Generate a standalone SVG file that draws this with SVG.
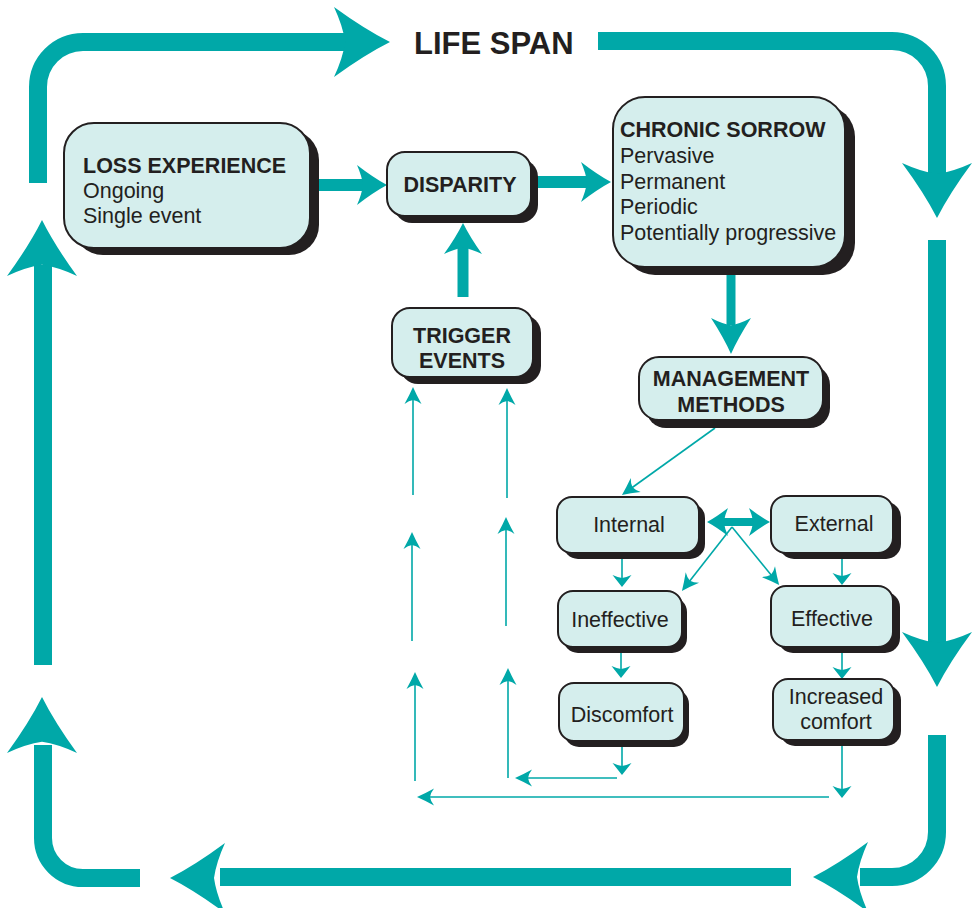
<svg xmlns="http://www.w3.org/2000/svg" xmlns:xlink="http://www.w3.org/1999/xlink" width="977" height="908" viewBox="0 0 977 908">
<style>
.shadow{fill:#231f20}
.box{fill:#d5eeed;stroke:#231f20;stroke-width:2}
.t{font-family:"Liberation Sans",Arial,Helvetica,sans-serif;font-size:21.5px;fill:#231f20}
.b{font-weight:bold}
.c{text-anchor:middle}
.thick{stroke:#00a8a8;fill:none;stroke-linecap:butt}
.thin{stroke:#00a8a8;stroke-width:1.6;fill:none}
.head{fill:#00a8a8}
</style>
<defs>
<path id="ah" d="M0,0 Q-0.45,-0.36 -1,-1 Q-0.84,-0.45 -0.8,0 Q-0.84,0.45 -1,1 Q-0.45,0.36 0,0Z"/>
<marker id="ta" markerUnits="userSpaceOnUse" viewBox="-20 -11 22 22" refX="-5" refY="0" markerWidth="22" markerHeight="22" orient="auto">
<path class="head" d="M0,0 Q-8,-3.5 -17,-8.5 Q-13.5,-4 -13,0 Q-13.5,4 -17,8.5 Q-8,3.5 0,0Z"/>
</marker>
<marker id="tb" markerUnits="userSpaceOnUse" viewBox="-14 -11 16 22" refX="-4" refY="0" markerWidth="16" markerHeight="22" orient="auto">
<path class="head" d="M0,0 Q-5,-4 -12,-9.5 Q-9.5,-4 -9,0 Q-9.5,4 -12,9.5 Q-5,4 0,0Z"/>
</marker>
</defs>
<rect width="977" height="908" fill="#ffffff"/>

<g id="lifespan-loop">
<path class="thick" stroke-width="18" d="M38,183 V87 A45,45 0 0 1 83,42 H350"/>
<use href="#ah" class="head" transform="translate(390,42) scale(56,35)"/>
<path class="thick" stroke-width="18" d="M598,41 H892 A45,45 0 0 1 937,86 V180"/>
<use href="#ah" class="head" transform="translate(937,218) rotate(90) scale(55,35)"/>
<path class="thick" stroke-width="18" d="M937,240 V650"/>
<use href="#ah" class="head" transform="translate(937,687) rotate(90) scale(55,35)"/>
<path class="thick" stroke-width="18" d="M937,735 V832 A45,45 0 0 1 892,877 H860"/>
<use href="#ah" class="head" transform="translate(813,877) rotate(180) scale(55,35)"/>
<path class="thick" stroke-width="18" d="M791,877 H220"/>
<use href="#ah" class="head" transform="translate(170,878) rotate(180) scale(55,35)"/>
<path class="thick" stroke-width="18" d="M140,878 H83 A40,40 0 0 1 43,838 V745"/>
<use href="#ah" class="head" transform="translate(42,697) rotate(-90) scale(56,35)"/>
<path class="thick" stroke-width="18" d="M43,665 V265"/>
<use href="#ah" class="head" transform="translate(42,220) rotate(-90) scale(56,35)"/>
<text class="t b" x="414" y="54" style="font-size:31px">LIFE SPAN</text>
</g>

<g id="connectors">
<path class="thick" stroke-width="12" d="M319,185 H365"/>
<use href="#ah" class="head" transform="translate(387,185) scale(30,20)"/>
<path class="thick" stroke-width="12" d="M537,182 H588"/>
<use href="#ah" class="head" transform="translate(611,182) scale(30,20)"/>
<path class="thick" stroke-width="11" d="M463,297 V245"/>
<use href="#ah" class="head" transform="translate(463,223) rotate(-90) scale(31,19)"/>
<path class="thick" stroke-width="9" d="M731,275 V325"/>
<use href="#ah" class="head" transform="translate(731,354) rotate(90) scale(36,20)"/>
<path class="thick" stroke-width="8" d="M720,522 H757"/>
<use href="#ah" class="head" transform="translate(707,522) rotate(180) scale(21,14)"/>
<use href="#ah" class="head" transform="translate(770,522) scale(21,14)"/>

<path class="thin" marker-end="url(#ta)" d="M715,428 L626,492"/>
<path class="thin" marker-end="url(#ta)" d="M732,527 L685,587"/>
<path class="thin" marker-end="url(#ta)" d="M732,527 L776,581"/>

<path class="thin" marker-end="url(#tb)" d="M622,559 V583"/>
<path class="thin" marker-end="url(#tb)" d="M621,653 V674"/>
<path class="thin" marker-end="url(#tb)" d="M622,747 V771"/>
<path class="thin" marker-end="url(#tb)" d="M842,559 V581"/>
<path class="thin" marker-end="url(#tb)" d="M842,653 V675"/>
<path class="thin" marker-end="url(#tb)" d="M842,746 V794"/>

<path class="thin" marker-end="url(#ta)" d="M617,778 H520"/>
<path class="thin" marker-end="url(#ta)" d="M829,797 H422"/>

<path class="thin" marker-end="url(#ta)" d="M415,781 V677"/>
<path class="thin" marker-end="url(#ta)" d="M412,641 V537"/>
<path class="thin" marker-end="url(#ta)" d="M413,495 V392"/>
<path class="thin" marker-end="url(#ta)" d="M508,778 V673"/>
<path class="thin" marker-end="url(#ta)" d="M506,626 V522"/>
<path class="thin" marker-end="url(#ta)" d="M507,498 V393"/>
</g>

<g id="loss-experience">
<rect class="shadow" x="73" y="130" width="246" height="125" rx="30"/>
<rect class="box" x="64" y="123" width="246" height="125" rx="30"/>
<text class="t b" x="83" y="173">LOSS EXPERIENCE</text>
<text class="t" x="83" y="198">Ongoing</text>
<text class="t" x="83" y="223">Single event</text>
</g>

<g id="disparity">
<rect class="shadow" x="394" y="159" width="144" height="64" rx="18"/>
<rect class="box" x="387" y="152" width="144" height="64" rx="18"/>
<text class="t b c" x="460" y="192">DISPARITY</text>
</g>

<g id="chronic-sorrow">
<rect class="shadow" x="623" y="105" width="232" height="170" rx="32"/>
<rect class="box" x="613" y="97" width="232" height="170" rx="32"/>
<text class="t b" x="620" y="137">CHRONIC SORROW</text>
<text class="t" x="620" y="163">Pervasive</text>
<text class="t" x="620" y="189">Permanent</text>
<text class="t" x="620" y="214">Periodic</text>
<text class="t" x="620" y="240">Potentially progressive</text>
</g>

<g id="trigger-events">
<rect class="shadow" x="400" y="315" width="141" height="69" rx="18"/>
<rect class="box" x="392" y="308" width="141" height="69" rx="18"/>
<text class="t b c" x="462" y="343">TRIGGER</text>
<text class="t b c" x="462" y="368">EVENTS</text>
</g>

<g id="management-methods">
<rect class="shadow" x="646" y="365" width="184" height="63" rx="20"/>
<rect class="box" x="639" y="357" width="184" height="63" rx="20"/>
<text class="t b c" x="731" y="386">MANAGEMENT</text>
<text class="t b c" x="731" y="412">METHODS</text>
</g>

<g id="internal">
<rect class="shadow" x="563" y="503" width="142" height="56" rx="15"/>
<rect class="box" x="557" y="497" width="142" height="56" rx="15"/>
<text class="t c" x="629" y="532">Internal</text>
</g>

<g id="external">
<rect class="shadow" x="779" y="502" width="122" height="57" rx="15"/>
<rect class="box" x="771" y="496" width="122" height="57" rx="15"/>
<text class="t c" x="834" y="531">External</text>
</g>

<g id="ineffective">
<rect class="shadow" x="563" y="597" width="124" height="56" rx="15"/>
<rect class="box" x="558" y="591" width="124" height="56" rx="15"/>
<text class="t c" x="620" y="627">Ineffective</text>
</g>

<g id="effective">
<rect class="shadow" x="778" y="592" width="122" height="61" rx="15"/>
<rect class="box" x="771" y="586" width="122" height="61" rx="15"/>
<text class="t c" x="832" y="626">Effective</text>
</g>

<g id="discomfort">
<rect class="shadow" x="564" y="689" width="125" height="58" rx="15"/>
<rect class="box" x="559" y="683" width="125" height="58" rx="15"/>
<text class="t c" x="622" y="722">Discomfort</text>
</g>

<g id="increased-comfort">
<rect class="shadow" x="780" y="685" width="121" height="61" rx="15"/>
<rect class="box" x="773" y="679" width="121" height="61" rx="15"/>
<text class="t c" x="836" y="704">Increased</text>
<text class="t c" x="836" y="729">comfort</text>
</g>
</svg>
